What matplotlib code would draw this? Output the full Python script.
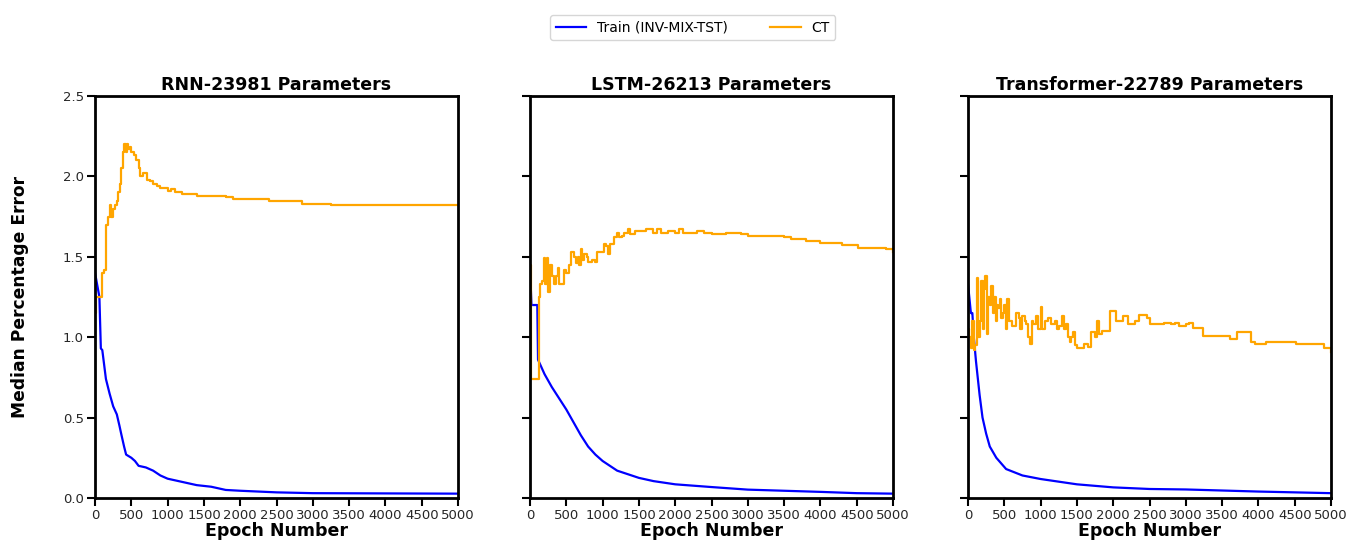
import matplotlib.pyplot as plt

# Epoch / value pairs
rnn_train_ep = [0, 60, 80, 100, 150, 200, 250, 300, 336, 360, 400, 428, 500, 550, 600, 700, 800, 900, 1000, 1200, 1400, 1600, 1800, 2000, 2500, 3000, 5000]
rnn_train = [1.40, 1.25, 0.93, 0.92, 0.74, 0.65, 0.57, 0.52, 0.45, 0.40, 0.32, 0.27, 0.25, 0.23, 0.20, 0.19, 0.17, 0.14, 0.12, 0.10, 0.08, 0.07, 0.05, 0.045, 0.035, 0.03, 0.027]

rnn_ct_ep = [0, 20, 80, 90, 130, 150, 180, 200, 220, 250, 280, 300, 320, 340, 360, 380, 400, 420, 440, 460, 480, 500, 540, 560, 600, 620, 660, 700, 720, 760, 800, 850, 900, 1000, 1050, 1100, 1200, 1400, 1800, 1900, 2400, 2850, 3250, 5000]
rnn_ct = [1.15, 1.25, 1.25, 1.40, 1.42, 1.70, 1.75, 1.82, 1.75, 1.80, 1.82, 1.85, 1.90, 1.95, 2.05, 2.15, 2.20, 2.15, 2.20, 2.17, 2.18, 2.15, 2.13, 2.10, 2.05, 2.00, 2.02, 2.02, 1.98, 1.97, 1.95, 1.94, 1.93, 1.91, 1.92, 1.90, 1.89, 1.88, 1.87, 1.86, 1.85, 1.83, 1.82, 1.82]

lstm_train_ep = [0, 20, 100, 110, 150, 200, 250, 300, 400, 500, 600, 700, 800, 900, 1000, 1100, 1200, 1300, 1400, 1500, 1700, 2000, 2500, 3000, 3500, 4000, 4500, 5000]
lstm_train = [1.43, 1.20, 1.20, 0.86, 0.82, 0.77, 0.73, 0.69, 0.62, 0.55, 0.47, 0.39, 0.32, 0.27, 0.23, 0.20, 0.17, 0.155, 0.14, 0.125, 0.105, 0.085, 0.068, 0.052, 0.045, 0.038, 0.03, 0.027]

lstm_ct_ep = [0, 15, 110, 120, 140, 170, 190, 210, 230, 250, 270, 300, 330, 360, 380, 400, 450, 470, 500, 530, 560, 600, 640, 660, 680, 700, 720, 740, 780, 800, 850, 900, 920, 1000, 1020, 1050, 1080, 1100, 1150, 1200, 1220, 1260, 1300, 1350, 1380, 1450, 1500, 1600, 1700, 1750, 1800, 1900, 2000, 2050, 2100, 2200, 2300, 2400, 2500, 2700, 2900, 3000, 3300, 3500, 3600, 3800, 4000, 4300, 4520, 4900, 5000]
lstm_ct = [1.45, 0.74, 0.74, 1.25, 1.33, 1.35, 1.49, 1.33, 1.49, 1.28, 1.45, 1.38, 1.33, 1.38, 1.43, 1.33, 1.33, 1.42, 1.40, 1.45, 1.53, 1.50, 1.46, 1.50, 1.45, 1.55, 1.48, 1.52, 1.50, 1.47, 1.48, 1.47, 1.53, 1.53, 1.58, 1.57, 1.52, 1.58, 1.62, 1.65, 1.62, 1.63, 1.65, 1.67, 1.64, 1.66, 1.66, 1.67, 1.65, 1.67, 1.65, 1.66, 1.65, 1.67, 1.65, 1.65, 1.66, 1.65, 1.64, 1.65, 1.64, 1.63, 1.63, 1.62, 1.61, 1.60, 1.585, 1.575, 1.555, 1.55, 1.53]

tf_train_ep = [0, 40, 60, 80, 110, 160, 200, 250, 300, 390, 525, 750, 1000, 1500, 2000, 2500, 3000, 4000, 5000]
tf_train = [1.33, 1.15, 1.15, 1.00, 0.85, 0.64, 0.50, 0.40, 0.32, 0.25, 0.18, 0.14, 0.118, 0.085, 0.066, 0.056, 0.053, 0.04, 0.03]

tf_ct_ep = [0, 20, 40, 60, 80, 100, 120, 140, 160, 180,
            200, 220, 240, 260, 280, 300, 320, 340, 360, 380,
            400, 420, 440, 460, 480, 500, 520, 540, 560, 600,
            650, 660, 700, 720, 740, 780, 800, 820, 850, 880,
            900, 940, 960, 1000, 1020, 1060, 1100, 1150, 1200, 1220,
            1250, 1300, 1320, 1350, 1380, 1400, 1420, 1450, 1480, 1500,
            1600, 1650, 1700, 1750, 1780, 1800, 1850, 1950, 2040, 2140,
            2200, 2300, 2350, 2460, 2500, 2700, 2800, 2850, 2900, 3000,
            3050, 3100, 3240, 3610, 3700, 3900, 3950, 4100, 4520, 4700,
            4800, 4900, 5000]
tf_ct = [1.05, 1.00, 0.93, 1.10, 0.92, 0.95, 1.37, 1.00, 1.10, 1.35,
         1.05, 1.30, 1.38, 1.02, 1.25, 1.20, 1.32, 1.15, 1.25, 1.10,
         1.20, 1.18, 1.24, 1.12, 1.15, 1.20, 1.05, 1.24, 1.10, 1.07,
         1.07, 1.15, 1.12, 1.05, 1.13, 1.10, 1.08, 1.00, 0.96, 1.10,
         1.08, 1.13, 1.05, 1.19, 1.05, 1.10, 1.12, 1.08, 1.10, 1.05,
         1.07, 1.13, 1.05, 1.08, 1.00, 0.97, 1.00, 1.03, 0.95, 0.93,
         0.96, 0.94, 1.03, 1.00, 1.10, 1.02, 1.04, 1.165, 1.10, 1.13,
         1.08, 1.10, 1.14, 1.12, 1.08, 1.09, 1.08, 1.09, 1.07, 1.08,
         1.09, 1.06, 1.01, 0.99, 1.03, 0.97, 0.96, 0.97, 0.955, 0.955,
         0.96, 0.93, 0.91]

titles = ['RNN-23981 Parameters', 'LSTM-26213 Parameters', 'Transformer-22789 Parameters']
panels = [
    (rnn_train_ep, rnn_train, rnn_ct_ep, rnn_ct),
    (lstm_train_ep, lstm_train, lstm_ct_ep, lstm_ct),
    (tf_train_ep, tf_train, tf_ct_ep, tf_ct),
]

fig = plt.figure(figsize=(13.48, 5.42), dpi=100)
lefts = [0.0705, 0.3932, 0.7181]
axes = [fig.add_axes([l, 0.0812, 0.2693, 0.7417]) for l in lefts]

for i, (ax, (tr_x, tr_y, ct_x, ct_y)) in enumerate(zip(axes, panels)):
    ax.plot(tr_x, tr_y, color='blue', linewidth=1.6, label='Train (INV-MIX-TST)')
    ax.plot(ct_x, ct_y, color='orange', linewidth=1.6, drawstyle='steps-post', label='CT')
    ax.set_xlim(0, 5000)
    ax.set_ylim(0, 2.5)
    ax.set_xticks(range(0, 5001, 500))
    ax.set_yticks([0, 0.5, 1.0, 1.5, 2.0, 2.5])
    ax.set_title(titles[i], fontsize=12.5, fontweight='bold', pad=4)
    ax.set_xlabel('Epoch Number', fontsize=12.5, fontweight='bold', labelpad=0)
    for s in ax.spines.values():
        s.set_linewidth(2)
    ax.tick_params(width=1.5, length=6, labelsize=9.5, labelcolor='#262626', pad=2)
    if i > 0:
        ax.set_yticklabels([])

axes[0].set_ylabel('Median Percentage Error', fontsize=12.3, fontweight='bold', labelpad=24)

handles, labels = axes[0].get_legend_handles_labels()
fig.legend(handles, labels, loc='upper center', bbox_to_anchor=(0.514, 0.985), ncol=2,
           fontsize=10, columnspacing=3, handlelength=2.2, frameon=True)

plt.savefig('out.png')
